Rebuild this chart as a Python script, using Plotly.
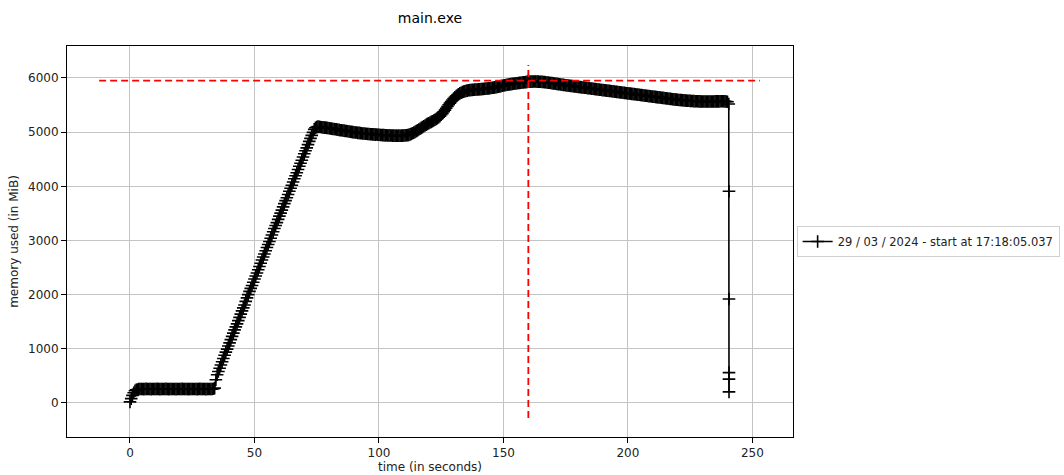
import plotly.graph_objects as go

# ---- data (time in seconds, memory in MiB) ----
TIME_S = [
    0, 0.5, 1, 1.5, 2, 2.5, 3, 3.5, 4, 4.5,
    5, 5.5, 6, 6.5, 7, 7.5, 8, 8.5, 9, 9.5,
    10, 10.5, 11, 11.5, 12, 12.5, 13, 13.5, 14, 14.5,
    15, 15.5, 16, 16.5, 17, 17.5, 18, 18.5, 19, 19.5,
    20, 20.5, 21, 21.5, 22, 22.5, 23, 23.5, 24, 24.5,
    25, 25.5, 26, 26.5, 27, 27.5, 28, 28.5, 29, 29.5,
    30, 30.5, 31, 31.5, 32, 32.5, 33, 33.5, 34, 34.5,
    35, 35.5, 36, 36.5, 37, 37.5, 38, 38.5, 39, 39.5,
    40, 40.5, 41, 41.5, 42, 42.5, 43, 43.5, 44, 44.5,
    45, 45.5, 46, 46.5, 47, 47.5, 48, 48.5, 49, 49.5,
    50, 50.5, 51, 51.5, 52, 52.5, 53, 53.5, 54, 54.5,
    55, 55.5, 56, 56.5, 57, 57.5, 58, 58.5, 59, 59.5,
    60, 60.5, 61, 61.5, 62, 62.5, 63, 63.5, 64, 64.5,
    65, 65.5, 66, 66.5, 67, 67.5, 68, 68.5, 69, 69.5,
    70, 70.5, 71, 71.5, 72, 72.5, 73, 73.5, 74, 74.5,
    75, 75.5, 76, 76.5, 77, 77.5, 78, 78.5, 79, 79.5,
    80, 80.5, 81, 81.5, 82, 82.5, 83, 83.5, 84, 84.5,
    85, 85.5, 86, 86.5, 87, 87.5, 88, 88.5, 89, 89.5,
    90, 90.5, 91, 91.5, 92, 92.5, 93, 93.5, 94, 94.5,
    95, 95.5, 96, 96.5, 97, 97.5, 98, 98.5, 99, 99.5,
    100, 100.5, 101, 101.5, 102, 102.5, 103, 103.5, 104, 104.5,
    105, 105.5, 106, 106.5, 107, 107.5, 108, 108.5, 109, 109.5,
    110, 110.5, 111, 111.5, 112, 112.5, 113, 113.5, 114, 114.5,
    115, 115.5, 116, 116.5, 117, 117.5, 118, 118.5, 119, 119.5,
    120, 120.5, 121, 121.5, 122, 122.5, 123, 123.5, 124, 124.5,
    125, 125.5, 126, 126.5, 127, 127.5, 128, 128.5, 129, 129.5,
    130, 130.5, 131, 131.5, 132, 132.5, 133, 133.5, 134, 134.5,
    135, 135.5, 136, 136.5, 137, 137.5, 138, 138.5, 139, 139.5,
    140, 140.5, 141, 141.5, 142, 142.5, 143, 143.5, 144, 144.5,
    145, 145.5, 146, 146.5, 147, 147.5, 148, 148.5, 149, 149.5,
    150, 150.5, 151, 151.5, 152, 152.5, 153, 153.5, 154, 154.5,
    155, 155.5, 156, 156.5, 157, 157.5, 158, 158.5, 159, 159.5,
    160, 160.5, 161, 161.5, 162, 162.5, 163, 163.5, 164, 164.5,
    165, 165.5, 166, 166.5, 167, 167.5, 168, 168.5, 169, 169.5,
    170, 170.5, 171, 171.5, 172, 172.5, 173, 173.5, 174, 174.5,
    175, 175.5, 176, 176.5, 177, 177.5, 178, 178.5, 179, 179.5,
    180, 180.5, 181, 181.5, 182, 182.5, 183, 183.5, 184, 184.5,
    185, 185.5, 186, 186.5, 187, 187.5, 188, 188.5, 189, 189.5,
    190, 190.5, 191, 191.5, 192, 192.5, 193, 193.5, 194, 194.5,
    195, 195.5, 196, 196.5, 197, 197.5, 198, 198.5, 199, 199.5,
    200, 200.5, 201, 201.5, 202, 202.5, 203, 203.5, 204, 204.5,
    205, 205.5, 206, 206.5, 207, 207.5, 208, 208.5, 209, 209.5,
    210, 210.5, 211, 211.5, 212, 212.5, 213, 213.5, 214, 214.5,
    215, 215.5, 216, 216.5, 217, 217.5, 218, 218.5, 219, 219.5,
    220, 220.5, 221, 221.5, 222, 222.5, 223, 223.5, 224, 224.5,
    225, 225.5, 226, 226.5, 227, 227.5, 228, 228.5, 229, 229.5,
    230, 230.5, 231, 231.5, 232, 232.5, 233, 233.5, 234, 234.5,
    235, 235.5, 236, 236.5, 237, 237.5, 238, 238.5, 239, 239.5,
    240, 240.5, 240.6, 240.6, 240.6, 240.6, 240.6,
]
MEM_MIB = [
    20, 80, 140, 190, 225, 242, 250, 255, 258, 257,
    259, 256, 258, 260, 257, 258, 259, 256, 258, 259,
    257, 258, 260, 258, 256, 258, 259, 257, 258, 260,
    258, 256, 259, 258, 257, 259, 258, 256, 258, 259,
    257, 258, 260, 258, 257, 259, 258, 256, 258, 259,
    258, 257, 259, 258, 256, 258, 260, 258, 257, 259,
    258, 256, 258, 259, 257, 258, 259, 262, 275, 430,
    520, 580, 640, 700, 760, 820, 880, 938, 995, 1052,
    1110, 1170, 1230, 1290, 1350, 1405, 1460, 1520, 1580, 1640,
    1700, 1755, 1810, 1875, 1940, 2000, 2060, 2115, 2170, 2230,
    2290, 2345, 2400, 2460, 2520, 2580, 2640, 2695, 2750, 2810,
    2870, 2925, 2980, 3040, 3100, 3160, 3220, 3275, 3330, 3390,
    3450, 3505, 3560, 3620, 3680, 3735, 3790, 3850, 3910, 3965,
    4020, 4080, 4140, 4195, 4250, 4310, 4370, 4425, 4480, 4540,
    4600, 4655, 4710, 4770, 4830, 4885, 4940, 4995, 5050, 5080,
    5095, 5102, 5098, 5094, 5090, 5088, 5084, 5083, 5078, 5077,
    5072, 5066, 5065, 5059, 5058, 5052, 5050, 5045, 5042, 5036,
    5035, 5029, 5028, 5022, 5020, 5015, 5012, 5006, 5005, 5000,
    4998, 4993, 4992, 4987, 4986, 4981, 4980, 4975, 4975, 4970,
    4970, 4966, 4966, 4962, 4962, 4958, 4958, 4954, 4955, 4951,
    4952, 4948, 4948, 4944, 4945, 4941, 4942, 4939, 4940, 4937,
    4938, 4935, 4936, 4933, 4935, 4933, 4935, 4934, 4936, 4936,
    4938, 4940, 4942, 4945, 4950, 4958, 4968, 4978, 4990, 5004,
    5018, 5033, 5048, 5063, 5078, 5093, 5108, 5123, 5138, 5152,
    5165, 5178, 5190, 5202, 5215, 5228, 5242, 5258, 5275, 5296,
    5320, 5346, 5375, 5407, 5440, 5472, 5505, 5535, 5565, 5593,
    5620, 5643, 5665, 5683, 5700, 5715, 5728, 5738, 5748, 5755,
    5762, 5767, 5772, 5775, 5778, 5780, 5783, 5785, 5787, 5788,
    5790, 5792, 5794, 5796, 5798, 5800, 5803, 5805, 5808, 5811,
    5815, 5818, 5822, 5826, 5830, 5835, 5840, 5845, 5850, 5855,
    5860, 5865, 5870, 5874, 5878, 5882, 5886, 5890, 5893, 5897,
    5900, 5903, 5906, 5909, 5912, 5915, 5918, 5921, 5924, 5927,
    5950, 5930, 5932, 5933, 5934, 5934, 5934, 5933, 5932, 5931,
    5930, 5928, 5926, 5923, 5920, 5917, 5914, 5911, 5907, 5904,
    5900, 5897, 5893, 5890, 5886, 5883, 5879, 5876, 5872, 5869,
    5866, 5863, 5860, 5857, 5854, 5851, 5848, 5845, 5842, 5839,
    5836, 5833, 5830, 5827, 5824, 5821, 5818, 5815, 5812, 5809,
    5806, 5803, 5800, 5797, 5794, 5791, 5788, 5785, 5782, 5779,
    5776, 5773, 5770, 5767, 5764, 5761, 5758, 5755, 5752, 5749,
    5746, 5743, 5740, 5737, 5734, 5731, 5728, 5725, 5722, 5719,
    5716, 5713, 5710, 5707, 5704, 5701, 5698, 5695, 5692, 5689,
    5686, 5683, 5680, 5677, 5674, 5671, 5668, 5665, 5662, 5659,
    5656, 5653, 5650, 5647, 5644, 5641, 5638, 5635, 5632, 5629,
    5626, 5623, 5620, 5617, 5614, 5611, 5608, 5605, 5602, 5600,
    5597, 5594, 5592, 5590, 5588, 5586, 5584, 5582, 5580, 5578,
    5577, 5575, 5574, 5572, 5571, 5570, 5569, 5568, 5567, 5566,
    5566, 5565, 5565, 5565, 5565, 5565, 5565, 5565, 5566, 5566,
    5567, 5567, 5568, 5568, 5569, 5569, 5570, 5570, 5568, 5565,
    5560, 5520, 3910, 1920, 560, 440, 205,
]
SERIES_LABEL = "29 / 03 / 2024 - start at 17:18:05.037"
TITLE = "main.exe"
X_TICKS = [0, 50, 100, 150, 200, 250]
Y_TICKS = [0, 1000, 2000, 3000, 4000, 5000, 6000]

# extents of the max-memory guide lines (axis limits before the final autoscale)
HLINE_X_EXTENT = [-12.4, 253.0]
VLINE_Y_EXTENT = [-277, 6240]
X_RANGE = [-25.3, 266.3]
Y_RANGE = [-628, 6590]

assert len(TIME_S) == len(MEM_MIB)
max_mem = max(MEM_MIB)
max_t = TIME_S[MEM_MIB.index(max_mem)]

FONT = "DejaVu Sans, Liberation Sans, sans-serif"

fig = go.Figure()
fig.add_trace(go.Scatter(
    x=TIME_S, y=MEM_MIB, mode="lines+markers", name=SERIES_LABEL,
    line=dict(color="black", width=1.6),
    marker=dict(symbol="cross-thin", size=9, color="black",
                line=dict(color="black", width=1.6)),
))
fig.add_trace(go.Scatter(
    x=HLINE_X_EXTENT, y=[max_mem, max_mem], mode="lines", showlegend=False,
    line=dict(color="red", width=1.8, dash="7px,4px"), hoverinfo="skip",
))
fig.add_trace(go.Scatter(
    x=[max_t, max_t], y=VLINE_Y_EXTENT, mode="lines", showlegend=False,
    line=dict(color="red", width=1.8, dash="7px,4px"), hoverinfo="skip",
))

axis_common = dict(
    showgrid=True, gridcolor="#c4c4c4", gridwidth=1,
    showline=True, linecolor="black", linewidth=1, mirror=True,
    ticks="outside", ticklen=5, tickcolor="black", tickwidth=1,
    zeroline=False, tickfont=dict(family=FONT, size=12, color="#222"),
)

fig.update_layout(
    width=1064, height=475,
    margin=dict(l=67, r=271, t=46, b=38, autoexpand=False),
    paper_bgcolor="white", plot_bgcolor="white",
    font=dict(family=FONT, size=12, color="black"),
    title=dict(text=TITLE, x=0.5, xref="paper", xanchor="center",
               y=1 - 18 / 475, yref="container", yanchor="middle",
               font=dict(family=FONT, size=14, color="black")),
    xaxis=dict(range=X_RANGE, tickvals=X_TICKS,
               title=dict(text="time (in seconds)", standoff=2,
                          font=dict(family=FONT, size=12, color="#222")),
               **axis_common),
    yaxis=dict(range=Y_RANGE, tickvals=Y_TICKS,
               title=dict(text="memory used (in MiB)", standoff=6,
                          font=dict(family=FONT, size=12, color="#222")),
               **axis_common),
    legend=dict(x=1.005, xanchor="left", y=0.5, yanchor="middle",
                bgcolor="white", bordercolor="#d0d0d0", borderwidth=1,
                font=dict(family=FONT, size=11.5, color="#222"),
                itemwidth=30),
    showlegend=True,
)

fig.write_html("out.html")
